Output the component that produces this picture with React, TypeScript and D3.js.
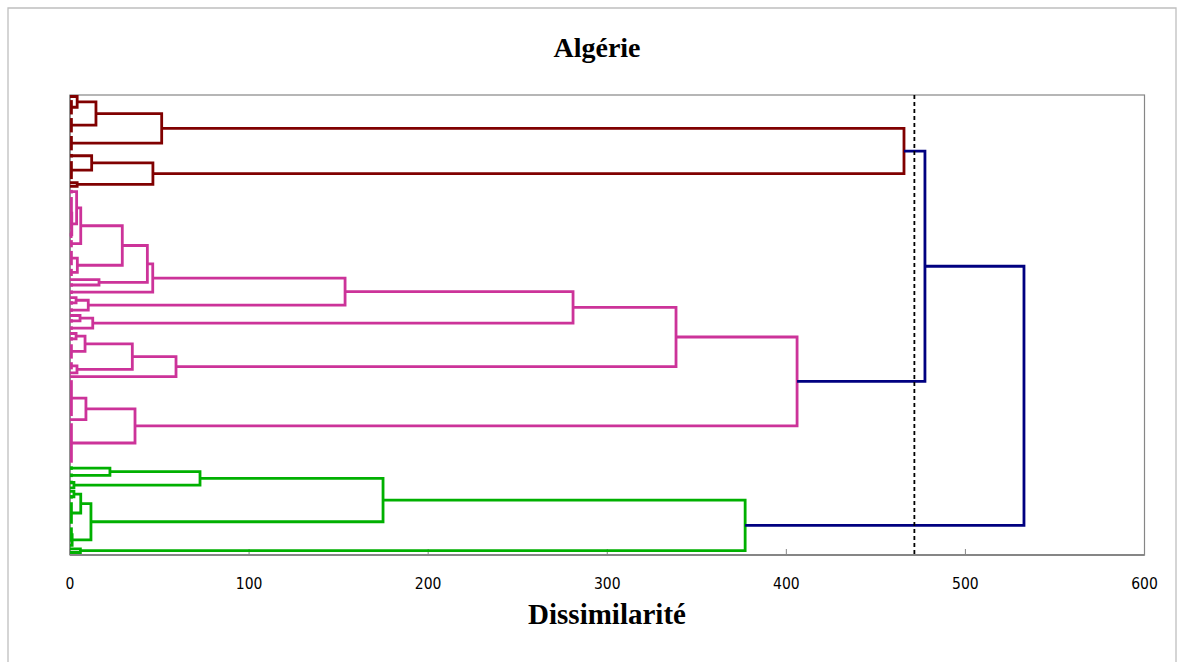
import React from "react";
import * as d3 from "d3";

// ---- data ----
// Tree nodes: [mergeHeight, left, right]; a plain number n = a group of n leaves merged at ~0.
type T = number | [number, T, T];

const title = "Algérie";
const xLabel = "Dissimilarité";
const xTicks = [0, 100, 200, 300, 400, 500, 600];
const cutLevel = 471.5;
const leafGroupHeight = 0.8;

const redCluster: T = [465.7,
  [51.2,
    [14.5, [4, 1, 5], 5],
    5],
  [46.3,
    [12.1, 2, 6],
    [4, 1, 1]]];

const pinkCluster: T = [406,
  [338.4,
    [280.9,
      [153.6,
        [46.2,
          [43.2,
            [29.2,
              [6, [3.7, 2, [1.0, 10, [0.6, 1, 1]]], 3],
              [4.1, 5, 3]],
            [16.2, 1, 2]],
          2],
        [10.2, [3.4, 1, 2], 2]],
      [12.7, [5.6, 1, 2], 2]],
    [59.2,
      [34.8,
        [8.4, [3.4, 1, 2], 5],
        [3.9, 3, 1]],
      1]],
  [36.3,
    [8.9, 11, 1],
    12]];

const greenCluster: T = [377,
  [174.8,
    [72.6, [22.3, 2, 2], [2.2, 2, 1]],
    [11.7, [6, [2.2, 1, 2], 7], [1.2, 5, 1]]],
  [5.8, 1, 1]];

const upperLink = 477.4;
const rootLink = 532.7;
const tree: T = [rootLink, [upperLink, redCluster, pinkCluster], greenCluster];

const colors = { red: "#800000", pink: "#CC3399", green: "#00B000", blue: "#000080" };

// ---- layout ----
const W = 1184, H = 662;
const plot = { left: 70, right: 1144.5, top: 95, bottom: 555 };

function countLeaves(n: T): number {
  return typeof n === "number" ? n : countLeaves(n[1]) + countLeaves(n[2]);
}
const nLeaves = countLeaves(tree);

const xS = d3.scaleLinear().domain([0, 600]).range([plot.left, plot.right]);
const yS = d3.scaleLinear().domain([0, nLeaves - 1]).range([plot.top + 1.5, plot.bottom - 2.5]);

type Seg = { d: string; color: string };

function buildSegs() {
  const segs: Seg[] = [];
  const clusterColor = new Map<any, string>([
    [redCluster, colors.red],
    [pinkCluster, colors.pink],
    [greenCluster, colors.green],
  ]);
  let idx = 0;
  function rec(node: T, color: string): { y: number; h: number } {
    if (typeof node === "number") {
      const y0 = yS(idx), y1 = yS(idx + node - 1);
      idx += node;
      if (node > 1) {
        segs.push({ d: `M${xS(leafGroupHeight)},${y0}V${y1}`, color });
        return { y: (y0 + y1) / 2, h: leafGroupHeight };
      }
      return { y: y0, h: 0 };
    }
    const c = clusterColor.get(node) ?? color;
    const a = rec(node[1], c);
    const b = rec(node[2], c);
    const x = xS(node[0]);
    segs.push({
      d: `M${xS(a.h)},${a.y}H${x}V${b.y}H${xS(b.h)}`,
      color: c,
    });
    return { y: (a.y + b.y) / 2, h: node[0] };
  }
  rec(tree, colors.blue);
  return segs;
}

export default function App() {
  const segs = buildSegs();
  const axisGray = "#868686";
  return (
    <svg
      width={W}
      height={H}
      style={{ position: "absolute", left: 0, top: 0, background: "#fff" }}
    >
      {/* outer chart border */}
      <path d={`M8,${H}V8H1176V${H}`} fill="none" stroke="#bfbfbf" strokeWidth={1.3} />
      <text
        x={597}
        y={57}
        textAnchor="middle"
        fontFamily="'Liberation Serif', 'Times New Roman', serif"
        fontWeight="bold"
        fontSize={28}
      >
        {title}
      </text>
      {/* plot border */}
      <rect
        x={plot.left}
        y={plot.top}
        width={plot.right - plot.left}
        height={plot.bottom - plot.top}
        fill="none"
        stroke={axisGray}
        strokeWidth={1.2}
      />
      {/* x axis */}
      <line x1={plot.left} x2={plot.right} y1={plot.bottom} y2={plot.bottom} stroke={axisGray} strokeWidth={2} />
      <line x1={plot.left} x2={plot.left} y1={plot.top} y2={plot.bottom} stroke={axisGray} strokeWidth={1.5} />
      {xTicks.map((t) => (
        <g key={t}>
          <line x1={xS(t)} x2={xS(t)} y1={plot.bottom - 6} y2={plot.bottom} stroke={axisGray} strokeWidth={1} />
          <text
            x={xS(t)}
            y={589}
            textAnchor="middle"
            fontFamily="'Liberation Sans Narrow', 'DejaVu Sans Condensed', 'Arial Narrow', sans-serif"
            fontSize={15.5}
            fill="#000"
          >
            {t}
          </text>
        </g>
      ))}
      {/* dendrogram */}
      <g fill="none" strokeWidth={2.8} strokeLinejoin="miter" strokeLinecap="butt">
        {segs.map((s, i) => (
          <path key={i} d={s.d} stroke={s.color} />
        ))}
      </g>
      {/* truncation line */}
      <line
        x1={xS(cutLevel)}
        x2={xS(cutLevel)}
        y1={plot.top}
        y2={plot.bottom}
        stroke="#000"
        strokeWidth={1.8}
        strokeDasharray="4,3"
      />
      <text
        x={607}
        y={624}
        textAnchor="middle"
        fontFamily="'Liberation Serif', 'Times New Roman', serif"
        fontWeight="bold"
        fontSize={29}
      >
        {xLabel}
      </text>
    </svg>
  );
}
